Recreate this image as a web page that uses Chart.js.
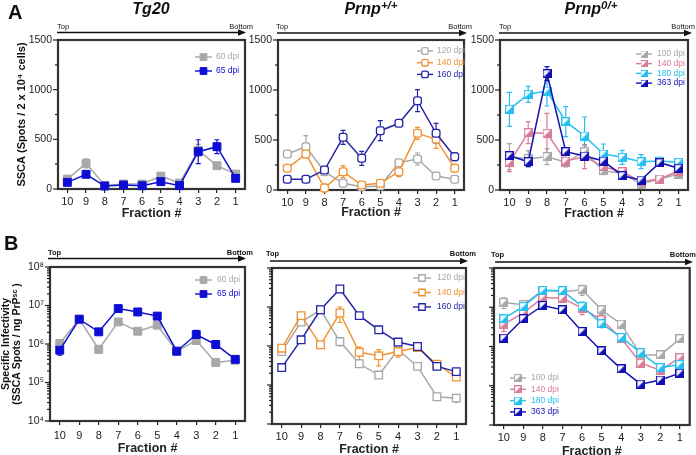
<!DOCTYPE html>
<html><head><meta charset="utf-8">
<script src="https://cdn.jsdelivr.net/npm/chart.js@4.4.1/dist/chart.umd.min.js"></script>
<style>
body{margin:0;width:696px;height:455px;background:#fff;position:relative;overflow:hidden;font-family:'Liberation Sans',Arial,sans-serif}
canvas{position:absolute;left:0;top:0}
.t{position:absolute;white-space:nowrap;color:#111;line-height:1}
.t sup{font-size:0.72em;vertical-align:baseline;position:relative;top:-0.5em}
svg{position:absolute;left:0;top:0}
</style></head><body>
<canvas id="a1" width="696" height="470"></canvas>
<canvas id="a2" width="696" height="470"></canvas>
<canvas id="a3" width="696" height="470"></canvas>
<canvas id="b1" width="696" height="470"></canvas>
<canvas id="b2" width="696" height="470"></canvas>
<canvas id="b3" width="696" height="470"></canvas>
<svg id="arrows" width="696" height="455"></svg>
<script>
// ---------------- DATA ----------------
const fractions = ['10','9','8','7','6','5','4','3','2','1'];

// Panel A: SSCA (spots / 2x10^4 cells)
const tg20_60dpi     = [100, 258, 35, 50, 50, 130, 60, 390, 235, 150];
const tg20_60dpi_err = [15, 45, 10, 10, 10, 20, 10, 60, 20, 15];
const tg20_65dpi     = [67, 148, 30, 40, 33, 74, 34, 376, 426, 107];
const tg20_65dpi_err = [20, 25, 10, 10, 10, 20, 10, 120, 70, 20];

const wt_120dpi     = [360, 433, 183, 67, 33, 40, 273, 310, 140, 107];
const wt_120dpi_err = [20, 110, 20, 15, 10, 10, 30, 60, 20, 20];
const wt_140dpi     = [217, 360, 20, 183, 50, 67, 183, 567, 507, 217];
const wt_140dpi_err = [30, 30, 40, 60, 10, 10, 50, 60, 90, 40];
const wt_160dpi     = [107, 107, 200, 527, 317, 593, 667, 893, 567, 333];
const wt_160dpi_err = [15, 15, 30, 70, 70, 100, 30, 110, 100, 40];

const het_100dpi     = [333, 313, 333, 277, 383, 193, 167, 60, 110, 160];
const het_100dpi_err = [130, 80, 80, 30, 60, 40, 20, 20, 15, 20];
const het_140dpi     = [273, 573, 567, 290, 333, 233, 183, 83, 110, 190];
const het_140dpi_err = [90, 110, 200, 60, 120, 60, 30, 20, 20, 20];
const het_180dpi     = [807, 957, 990, 683, 540, 360, 327, 283, 290, 277];
const het_180dpi_err = [170, 80, 150, 150, 190, 100, 70, 70, 40, 30];
const het_363dpi     = [343, 283, 1163, 383, 340, 290, 143, 100, 273, 217];
const het_363dpi_err = [40, 50, 70, 30, 30, 30, 20, 20, 20, 20];

// Panel B: specific infectivity (SSCA spots / ng PrPSc)
const tg20_si_60dpi     = [1.03e6, 4.4e6, 7.3e5, 3.75e6, 2.15e6, 3.08e6, 6.5e5, 1.23e6, 3.3e5, 3.8e5];
const tg20_si_60dpi_err = [1.5e5, 4e5, 1.5e5, 4e5, 3e5, 3e5, 5e4, 2e5, 3e4, 3e4];
const tg20_si_65dpi     = [6.9e5, 4.4e6, 2.07e6, 8.3e6, 6.8e6, 5.3e6, 6.5e5, 1.76e6, 9.7e5, 4.0e5];
const tg20_si_65dpi_err = [1.8e5, 4e5, 2e5, 6e5, 5e5, 5e5, 5e4, 5e5, 8e4, 3e4];

const wt_si_120dpi     = [7.2e5, 4.1e6, 8.5e6, 1.3e6, 3.5e5, 1.8e5, 8.0e5, 3.0e5, 5.0e4, 4.6e4];
const wt_si_120dpi_err = [5e4, 4e5, 8e5, 3e5, 4e4, 2e4, 6e4, 3e4, 5e3, 1e4];
const wt_si_140dpi     = [8.8e5, 6.0e6, 1.07e6, 7.0e6, 6.9e5, 5.6e5, 7.2e5, 9.1e5, 3.4e5, 1.6e5];
const wt_si_140dpi_err = [8e4, 6e5, 1e5, 3e6, 2.5e5, 2.5e5, 2e5, 8e4, 3e4, 2e4];
const wt_si_160dpi     = [2.8e5, 1.44e6, 8.5e6, 2.9e7, 6.0e6, 2.6e6, 1.26e6, 9.7e5, 3.0e5, 2.2e5];
const wt_si_160dpi_err = [2e4, 1e5, 6e5, 3e6, 5e5, 2e5, 1e5, 8e4, 3e4, 2e4];

const het_si_100dpi     = [1.33e7, 1.16e7, 2.7e7, 2.5e7, 2.8e7, 8.6e6, 3.7e6, 6.1e5, 6.1e5, 1.57e6];
const het_si_100dpi_err = [4e6, 2e6, 3e6, 3e6, 8e6, 2e6, 4e5, 6e4, 5e4, 1.5e5];
const het_si_140dpi     = [3.7e6, 7.1e6, 1.78e7, 1.7e7, 9.5e6, 4.8e6, 1.63e6, 3.75e5, 2.5e5, 5.2e5];
const het_si_140dpi_err = [1.3e6, 1e6, 2e6, 3e6, 3e6, 1e6, 2e5, 4e4, 2e4, 8e4];
const het_si_180dpi     = [5.1e6, 1.05e7, 2.7e7, 2.65e7, 1.05e7, 3.8e6, 1.7e6, 7.0e5, 2.9e5, 3.5e5];
const het_si_180dpi_err = [8e5, 1.5e6, 3e6, 3e6, 3e6, 8e5, 2e5, 8e4, 3e4, 4e4];
const het_si_363dpi     = [1.63e6, 5.1e6, 1.11e7, 8.6e6, 2.4e6, 7.7e5, 2.7e5, 1.1e5, 1.4e5, 2.1e5];
const het_si_363dpi_err = [1.5e5, 5e5, 1e6, 8e5, 2e5, 6e4, 2e4, 1e4, 1e4, 2e4];

const linearTicks = [0, 250, 500, 750, 1000, 1250, 1500];
const logDecades = [4, 5, 6, 7, 8];

// ---------------- STYLE ----------------
const CW = 696, CH = 470;
const GRAY = '#a8a8a8', BLUE = '#0d0dd4', ORANGE = '#f29233', NAVY = '#2525a8',
      PINK = '#d97c98', CYAN = '#25bff0', DNAVY = '#1010b4';
const SUP = ['⁰','¹','²','³','⁴','⁵','⁶','⁷','⁸','⁹'];
const FONT = "'Liberation Sans', Arial, sans-serif";
Chart.defaults.font.family = FONT;
Chart.defaults.color = '#222';

function halfSquare(color, size) {
  const c = document.createElement('canvas'); c.width = size; c.height = size;
  const g = c.getContext('2d');
  g.fillStyle = '#fff'; g.fillRect(0, 0, size, size);
  g.fillStyle = color; g.beginPath(); g.moveTo(0, size); g.lineTo(size, size); g.lineTo(size, 0); g.closePath(); g.fill();
  g.strokeStyle = color; g.lineWidth = 1.2; g.strokeRect(0.6, 0.6, size - 1.2, size - 1.2);
  return c;
}

// ---------------- PLUGINS ----------------
const framePlugin = {
  id: 'frame',
  beforeDatasetsDraw(chart) {
    const {left, top, right, bottom} = chart.chartArea, ctx = chart.ctx;
    ctx.save(); ctx.strokeStyle = '#333'; ctx.lineWidth = 2.2;
    ctx.strokeRect(left, top, right - left, bottom - top); ctx.restore();
  }
};
const errorPlugin = {
  id: 'errorBars',
  beforeDatasetsDraw(chart) {
    const ctx = chart.ctx, ys = chart.scales.y;
    chart.data.datasets.forEach((d, i) => {
      if (!d.err) return;
      const meta = chart.getDatasetMeta(i);
      ctx.save(); ctx.strokeStyle = d.borderColor; ctx.lineWidth = 1.2;
      meta.data.forEach((pt, j) => {
        const v = d.data[j], e = d.err[j]; if (!e) return;
        let lo = v - e; if (ys.type === 'logarithmic' && lo <= 0) lo = v * 0.5;
        const yt = ys.getPixelForValue(v + e), yb = ys.getPixelForValue(lo);
        ctx.beginPath();
        ctx.moveTo(pt.x, yt); ctx.lineTo(pt.x, yb);
        ctx.moveTo(pt.x - 2.5, yt); ctx.lineTo(pt.x + 2.5, yt);
        ctx.moveTo(pt.x - 2.5, yb); ctx.lineTo(pt.x + 2.5, yb);
        ctx.stroke();
      });
      ctx.restore();
    });
  }
};
const yTickPlugin = {
  id: 'yTicks',
  afterDraw(chart) {
    const ys = chart.scales.y, ctx = chart.ctx, x0 = chart.chartArea.left;
    ctx.save(); ctx.strokeStyle = '#222'; ctx.lineWidth = 1.2;
    ys.ticks.forEach(t => {
      const y = ys.getPixelForValue(t.value);
      const len = t.major ? 5 : 3;
      ctx.beginPath(); ctx.moveTo(x0, y); ctx.lineTo(x0 - len, y); ctx.stroke();
    });
    ctx.restore();
  }
};
const legendPlugin = {
  id: 'insideLegend',
  afterDatasetsDraw(chart, args, o) {
    const ctx = chart.ctx;
    ctx.save(); ctx.font = '8.5px ' + FONT; ctx.textBaseline = 'middle';
    chart.data.datasets.forEach((d, i) => {
      const y = o.y + i * o.spacing, mx = o.x + o.lineLen / 2;
      ctx.strokeStyle = d.borderColor; ctx.lineWidth = 1.4;
      ctx.beginPath(); ctx.moveTo(o.x, y); ctx.lineTo(o.x + o.lineLen, y); ctx.stroke();
      if (d.pointStyle instanceof HTMLCanvasElement) {
        const s = o.img || 8;
        ctx.drawImage(d.pointStyle, mx - s / 2, y - s / 2, s, s);
      } else {
        ctx.fillStyle = d.pointBackgroundColor; ctx.lineWidth = d.pointBorderWidth;
        Chart.helpers.drawPoint(ctx, {pointStyle: d.pointStyle, radius: d.pointRadius * (o.scale || 0.85), rotation: 0, borderWidth: d.pointBorderWidth}, mx, y);
      }
      ctx.fillStyle = d.borderColor;
      ctx.fillText(d.label, o.x + o.lineLen + o.gap, y);
    });
    ctx.restore();
  }
};

// ---------------- BUILDERS ----------------
function series(label, data, err, color, style, order) {
  const base = {label, data, err, borderColor: color, backgroundColor: color, borderWidth: 1.5,
    tension: 0, clip: false, order, pointBorderColor: color, pointBorderWidth: 1.3};
  if (style === 'solid') Object.assign(base, {pointStyle: 'rect', pointRadius: 5.6, pointBackgroundColor: color, pointBorderWidth: 1});
  else if (style === 'openRound') Object.assign(base, {pointStyle: 'rectRounded', pointRadius: 4.5, pointBackgroundColor: '#fff'});
  else if (style === 'open') Object.assign(base, {pointStyle: 'rect', pointRadius: 5.4, pointBackgroundColor: '#fff'});
  else if (style === 'half') Object.assign(base, {pointStyle: halfSquare(color, 9), pointRadius: 5, pointBackgroundColor: '#fff'});
  return base;
}

function xScale(g) {
  return {
    type: 'category', offset: true,
    grid: {display: true, drawOnChartArea: false, drawTicks: true, tickLength: 4, color: '#222', lineWidth: 1.2},
    border: {display: true, color: '#222', width: 1.5},
    ticks: {padding: g.xPad, color: '#222', font: {size: 11}, autoSkip: false, maxRotation: 0},
    title: {display: true, text: 'Fraction #', color: '#222', font: {size: 12.5, weight: 'bold'}, padding: {top: 0, bottom: 0}},
    afterFit(s) { s.height = g.xH; }
  };
}
function yLinear(g, title) {
  return {
    type: 'linear', min: 0, max: 1500,
    afterBuildTicks(s) { s.ticks = linearTicks.map(v => ({value: v, major: v % 500 === 0})); },
    ticks: {autoSkip: false, padding: 6, color: '#222', font: {size: 10.5}, callback: v => (v % 500 === 0 ? String(v) : '')},
    grid: {display: true, drawOnChartArea: false, drawTicks: false},
    border: {display: true, color: '#222', width: 1.5},
    title: title ? {display: true, text: title, color: '#111', font: {size: 11, weight: 'bold'}, padding: {top: 5.4, bottom: 0}} : {display: false},
    afterFit(s) { s.width = g.yW; }
  };
}
function yLog(g, title, showLabels) {
  return {
    type: 'logarithmic', min: 1e4, max: 1e8,
    afterBuildTicks(s) {
      const t = [];
      logDecades.forEach((e, k) => {
        t.push({value: Math.pow(10, e), major: true});
        if (k < logDecades.length - 1) for (let m = 2; m <= 9; m++) t.push({value: m * Math.pow(10, e), major: false});
      });
      s.ticks = t;
    },
    ticks: {autoSkip: false, padding: 6, color: '#222', font: {size: 10.5},
      callback: v => { const l = Math.log10(v); const r = Math.round(l);
        return (showLabels && Math.abs(l - r) < 1e-9) ? '10' + SUP[r] : ''; }},
    grid: {display: true, drawOnChartArea: false, drawTicks: false},
    border: {display: true, color: '#222', width: 1.5},
    title: title ? {display: true, text: title, color: '#111', font: {size: 10.5, weight: 'bold', lineHeight: 1.1}, padding: {top: 0, bottom: 0}} : {display: false},
    afterFit(s) { s.width = g.yW; }
  };
}
function make(id, g, y, datasets, legend) {
  return new Chart(document.getElementById(id), {
    type: 'line',
    data: {labels: fractions, datasets},
    options: {
      responsive: false, maintainAspectRatio: false, animation: false, events: [],
      layout: {padding: {left: g.padL, top: g.top, right: CW - g.right, bottom: CH - g.bottom - g.xH}},
      plugins: {legend: {display: false}, tooltip: {enabled: false}, insideLegend: legend},
      scales: {x: xScale(g), y}
    },
    plugins: [framePlugin, errorPlugin, yTickPlugin, legendPlugin]
  });
}

// ---------------- CHARTS ----------------
const gA1 = {padL: 10, yW: 48, top: 40, bottom: 189, right: 245, xH: 32, xPad: 2};
const gA2 = {padL: 238, yW: 40, top: 40, bottom: 190, right: 464, xH: 30, xPad: 2};
const gA3 = {padL: 460, yW: 40, top: 40, bottom: 190, right: 688, xH: 31, xPad: 2};
const gB1 = {padL: 0, yW: 50, top: 267, bottom: 421, right: 245, xH: 35, xPad: 4};
const gB2 = {padL: 242, yW: 30, top: 268, bottom: 424, right: 466, xH: 33, xPad: 2};
const gB3 = {padL: 464, yW: 30, top: 268, bottom: 425, right: 691, xH: 34, xPad: 2.5};

make('a1', gA1, yLinear(gA1, 'SSCA (Spots / 2 x 10⁴ cells)'), [
  series('60 dpi', tg20_60dpi, tg20_60dpi_err, GRAY, 'solid', 1),
  series('65 dpi', tg20_65dpi, tg20_65dpi_err, BLUE, 'solid', 0)
], {x: 195, y: 57, spacing: 14, lineLen: 17, gap: 4});

make('a2', gA2, yLinear(gA2, null), [
  series('120 dpi', wt_120dpi, wt_120dpi_err, GRAY, 'openRound', 2),
  series('140 dpi', wt_140dpi, wt_140dpi_err, ORANGE, 'openRound', 1),
  series('160 dpi', wt_160dpi, wt_160dpi_err, NAVY, 'openRound', 0)
], {x: 417, y: 51, spacing: 11.7, lineLen: 16, gap: 4});

make('a3', gA3, yLinear(gA3, null), [
  series('100 dpi', het_100dpi, het_100dpi_err, GRAY, 'half', 3),
  series('140 dpi', het_140dpi, het_140dpi_err, PINK, 'half', 2),
  series('180 dpi', het_180dpi, het_180dpi_err, CYAN, 'half', 1),
  series('363 dpi', het_363dpi, het_363dpi_err, DNAVY, 'half', 0)
], {x: 636, y: 54, spacing: 9.7, lineLen: 16, gap: 5, img: 7});

make('b1', gB1, yLog(gB1, ['Specific Infectivity', '(SSCA Spots / ng PrPˢᶜ )'], true), [
  series('60 dpi', tg20_si_60dpi, tg20_si_60dpi_err, GRAY, 'solid', 1),
  series('65 dpi', tg20_si_65dpi, tg20_si_65dpi_err, BLUE, 'solid', 0)
], {x: 195, y: 280, spacing: 14, lineLen: 17, gap: 5});

make('b2', gB2, yLog(gB2, null, false), [
  series('120 dpi', wt_si_120dpi, wt_si_120dpi_err, GRAY, 'open', 2),
  series('140 dpi', wt_si_140dpi, wt_si_140dpi_err, ORANGE, 'open', 1),
  series('160 dpi', wt_si_160dpi, wt_si_160dpi_err, NAVY, 'open', 0)
], {x: 413, y: 278, spacing: 14.5, lineLen: 18, gap: 6});

make('b3', gB3, yLog(gB3, null, false), [
  series('100 dpi', het_si_100dpi, het_si_100dpi_err, GRAY, 'half', 3),
  series('140 dpi', het_si_140dpi, het_si_140dpi_err, PINK, 'half', 2),
  series('180 dpi', het_si_180dpi, het_si_180dpi_err, CYAN, 'half', 1),
  series('363 dpi', het_si_363dpi, het_si_363dpi_err, DNAVY, 'half', 0)
], {x: 510, y: 378, spacing: 11.3, lineLen: 16, gap: 5, img: 8});

// ---------------- TEXT & ARROWS ----------------
function txt(s, x, base, fs, o) {
  o = o || {};
  const d = document.createElement('div'); d.className = 't'; d.innerHTML = s;
  d.style.fontSize = fs + 'px'; d.style.top = (base - 0.8465 * fs) + 'px';
  if (o.bold) d.style.fontWeight = 'bold';
  if (o.italic) d.style.fontStyle = 'italic';
  if (o.align === 'center') { d.style.left = x + 'px'; d.style.transform = 'translateX(-50%)'; }
  else if (o.align === 'right') { d.style.right = (696 - x) + 'px'; }
  else d.style.left = x + 'px';
  document.body.appendChild(d);
}
txt('A', 8, 19, 20, {bold: true});
txt('B', 4, 250, 20, {bold: true});
txt('Tg20', 151, 15, 16, {bold: true, italic: true, align: 'center'});
txt('Prnp<sup>+/+</sup>', 371, 15, 16, {bold: true, italic: true, align: 'center'});
txt('Prnp<sup>0/+</sup>', 591, 15, 16, {bold: true, italic: true, align: 'center'});

const arrows = [
  {x1: 57, x2: 246, y: 32.5, tx: 57, bx: 253, ty: 29.5, bold: false},
  {x1: 277, x2: 467, y: 33, tx: 276, bx: 472, ty: 29.5, bold: false},
  {x1: 499, x2: 692, y: 33, tx: 499, bx: 695, ty: 29.5, bold: false},
  {x1: 48, x2: 246, y: 258.5, tx: 48, bx: 253, ty: 255.5, bold: true},
  {x1: 270, x2: 468, y: 261, tx: 266, bx: 476, ty: 256.5, bold: true},
  {x1: 495, x2: 693, y: 262, tx: 491, bx: 696, ty: 257, bold: true}
];
const svg = document.getElementById('arrows');
let sv = '';
arrows.forEach(a => {
  sv += `<line x1="${a.x1}" y1="${a.y}" x2="${a.x2 - 5}" y2="${a.y}" stroke="#111" stroke-width="1.5"/>`;
  sv += `<polygon points="${a.x2 - 8},${a.y - 3.2} ${a.x2},${a.y} ${a.x2 - 8},${a.y + 3.2}" fill="#111"/>`;
  txt('Top', a.tx, a.ty, 7.5, {bold: a.bold});
  txt('Bottom', a.bx, a.ty, 7.5, {bold: a.bold, align: 'right'});
});
svg.innerHTML = sv;
</script>
</body></html>
